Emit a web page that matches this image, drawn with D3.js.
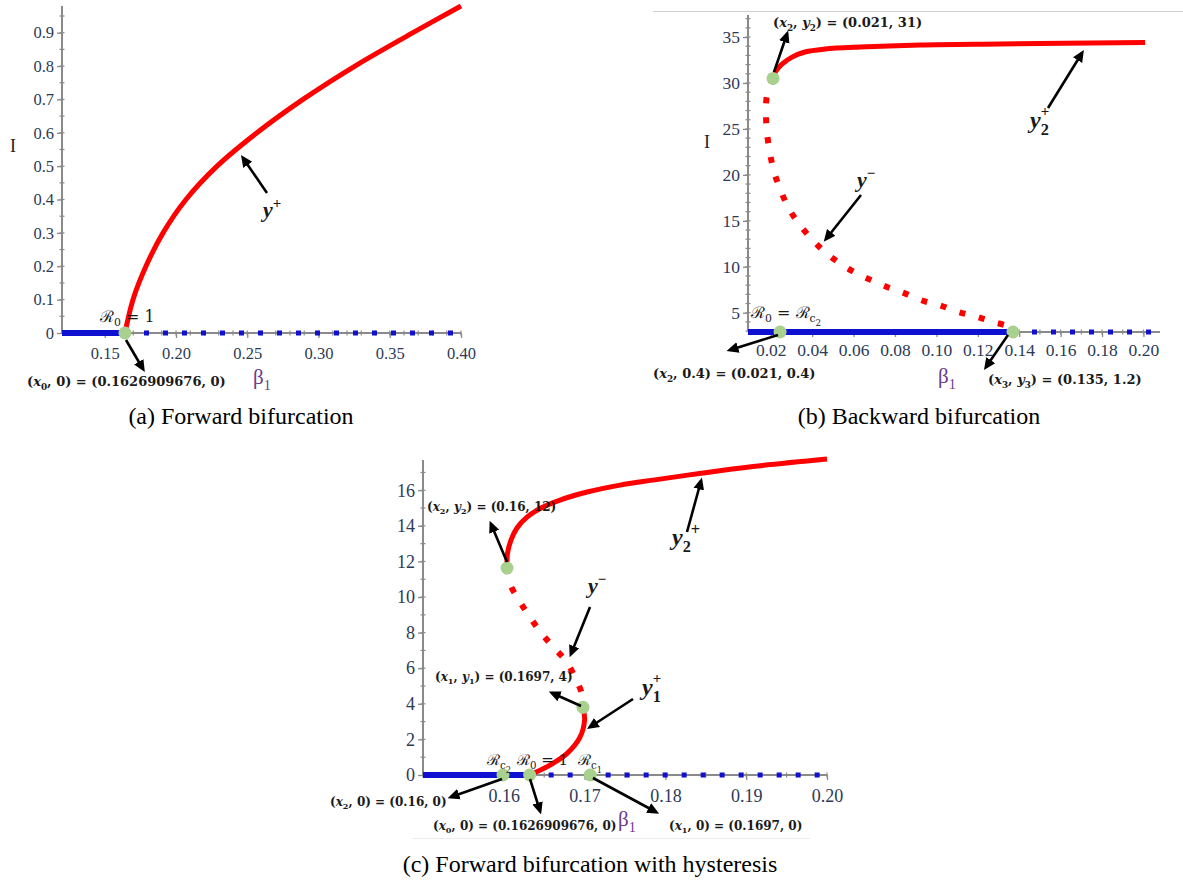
<!DOCTYPE html>
<html>
<head>
<meta charset="utf-8">
<script src="https://cdn.jsdelivr.net/npm/d3@7"></script>
<style>
  body { margin: 0; background: #fff; }
  svg { display: block; }
</style>
</head>
<body>
<svg id="chart" width="1183" height="884"></svg>
<script>
// ---------- panel (a) forward bifurcation ----------
const aXTicks = [0.15, 0.20, 0.25, 0.30, 0.35, 0.40];
const aYTicks = [0, 0.1, 0.2, 0.3, 0.4, 0.5, 0.6, 0.7, 0.8, 0.9];
const aBeta0 = 0.1642;                      // R0 = 1 (green dot)
const aYPlusBeta = [0.1642, 0.1698, 0.1789, 0.1909, 0.2070, 0.2288, 0.2568, 0.2891, 0.3256, 0.3663, 0.40];
const aYPlusI    = [0,      0.1,    0.2,    0.3,    0.4,    0.5,    0.6,    0.7,    0.8,    0.9,    0.98];

// ---------- panel (b) backward bifurcation ----------
const bXTicks = [0.02, 0.04, 0.06, 0.08, 0.10, 0.12, 0.14, 0.16, 0.18, 0.20];
const bYTicks = [5, 10, 15, 20, 25, 30, 35];
const bDotsBeta = [0.0211, 0.0245, 0.137];
const bDotsI    = [30.5,   0,      0];
const bY2PlusBeta = [0.0211, 0.0225, 0.0254, 0.0303, 0.0365, 0.0462, 0.0631, 0.0921, 0.1307, 0.2008];
const bY2PlusI    = [30.54,  31.3,   32.06,  32.82,  33.37,  33.69,  33.91,  34.13,  34.24,  34.4];
const bYMinusBeta = [0.0211, 0.0182, 0.0177, 0.0182, 0.0196, 0.0216, 0.0245, 0.0283, 0.0332, 0.039, 0.0452,
                     0.0525, 0.0597, 0.0679, 0.0761, 0.0848, 0.0935, 0.1018, 0.1104, 0.1187, 0.1274, 0.1356, 0.137];
const bYMinusI    = [30.5,   28.7,   26.7,   24.5,   22.4,   20.3,   18.5,   16.5,   14.8,   13.2,  11.8,
                     10.5,   9.5,    8.6,    7.8,    7.1,    6.3,    5.8,    5.1,    4.6,    4.0,    3.4,    2.9];

// ---------- panel (c) forward bifurcation with hysteresis ----------
const cXTicks = [0.16, 0.17, 0.18, 0.19, 0.20];
const cYTicks = [0, 2, 4, 6, 8, 10, 12, 14, 16];
const cDotsBeta = [0.1604, 0.1698, 0.1599, 0.1632, 0.1707];
const cDotsI    = [11.63,  3.8,    0,      0,      0];
const cY2PlusBeta = [0.1604, 0.16046, 0.16089, 0.16163, 0.16287, 0.1646, 0.16696, 0.1703, 0.17438, 0.17847, 0.18465, 0.19084, 0.200];
const cY2PlusI    = [11.63,  12.47,   13.2,    13.88,   14.49,   15.0,   15.45,   15.9,   16.29,   16.57,   16.97,   17.33,   17.75];
const cYMinusBeta = [0.1604, 0.1607, 0.1619, 0.1632, 0.1646, 0.1661, 0.1677, 0.1688, 0.1697, 0.1698];
const cYMinusI    = [11.63,  10.8,   9.8,    8.9,    8.0,    7.2,    6.4,    5.5,    4.5,    3.8];
const cY1PlusBeta = [0.1698, 0.1700, 0.1694, 0.1678, 0.1657, 0.1637, 0.1632];
const cY1PlusI    = [3.8,    3.1,    2.1,    1.2,    0.55,   0.1,    0];

const red = "#ff0000", blue = "#1010d0", green = "#a9d18e";
const tickColor = "#2c3a57", axisColor = "#8a8a8a", betaColor = "#6b3a8c";
const serif = "'Liberation Serif', 'Times New Roman', serif";
const mathSerif = "'DejaVu Serif', serif";

const svg = d3.select("#chart");
const defs = svg.append("defs");
defs.append("marker").attr("id", "head")
    .attr("viewBox", "0 0 10 10").attr("refX", 7).attr("refY", 5)
    .attr("markerWidth", 12).attr("markerHeight", 12)
    .attr("markerUnits", "userSpaceOnUse").attr("orient", "auto")
    .append("path").attr("d", "M0,0.5 L10,5 L0,9.5 z").attr("fill", "#000");

const zip = (xs, ys) => xs.map((v, i) => [v, ys[i]]);

function drawAxes(g, x, y, o) {
    const [x0, x1] = x.range(), [y0, y1] = y.range();
    // minor ticks, crossing the axis
    g.selectAll(".ymin").data(o.yMinor).join("line").attr("class", "ymin")
        .attr("x1", x0 - 2.5).attr("x2", x0 + 2.5)
        .attr("y1", d => y(d)).attr("y2", d => y(d))
        .attr("stroke", axisColor).attr("stroke-width", 1.2);
    g.selectAll(".xmin").data(o.xMinor).join("line").attr("class", "xmin")
        .attr("y1", y0 - 2.5).attr("y2", y0 + 2.5)
        .attr("x1", d => x(d)).attr("x2", d => x(d))
        .attr("stroke", axisColor).attr("stroke-width", 1.2);

    const ya = d3.axisLeft(y).tickValues(o.yTicks).tickSize(5).tickPadding(3).tickFormat(o.yFmt);
    const xa = d3.axisBottom(x).tickValues(o.xTicks).tickSize(5).tickPadding(o.xPad).tickFormat(o.xFmt);
    const gy = g.append("g").attr("transform", `translate(${x0},0)`).call(ya);
    const gx = g.append("g").attr("transform", `translate(0,${y0})`).call(xa);
    [gx, gy].forEach(a => {
        a.select(".domain").remove();
        a.selectAll(".tick line").attr("stroke", axisColor).attr("stroke-width", 1.3);
        a.selectAll(".tick text").attr("fill", tickColor)
            .attr("font-family", serif).attr("font-size", o.fontSize);
    });
    g.append("line").attr("x1", x0).attr("x2", x0).attr("y1", y0).attr("y2", y1)
        .attr("stroke", axisColor).attr("stroke-width", 2);
    g.append("line").attr("x1", x0).attr("x2", x1).attr("y1", y0).attr("y2", y0)
        .attr("stroke", axisColor).attr("stroke-width", 2);
}

function blueLine(g, x, y, solid, dotted) {
    const line = d3.line().x(d => x(d)).y(() => y(0));
    g.append("path").attr("d", line(solid)).attr("stroke", blue)
        .attr("stroke-width", 6).attr("fill", "none");
    g.append("path").attr("d", line(dotted)).attr("stroke", blue)
        .attr("stroke-width", 5).attr("stroke-dasharray", "5 14").attr("fill", "none");
}

function redCurve(g, x, y, pts, dotted) {
    const line = d3.line().x(d => x(d[0])).y(d => y(d[1])).curve(d3.curveCatmullRom.alpha(0.5));
    g.append("path").attr("d", line(pts)).attr("fill", "none")
        .attr("stroke", red).attr("stroke-width", dotted ? 6 : 5)
        .attr("stroke-dasharray", dotted ? "6 14" : null);
}

function dots(g, x, y, pts) {
    g.selectAll(".dot").data(pts).join("circle").attr("class", "dot")
        .attr("cx", d => x(d[0])).attr("cy", d => y(d[1])).attr("r", 6.5)
        .attr("fill", green);
}

function arrows(g, list) {
    g.selectAll(".arrow").data(list).join("line").attr("class", "arrow")
        .attr("x1", d => d[0]).attr("y1", d => d[1]).attr("x2", d => d[2]).attr("y2", d => d[3])
        .attr("stroke", "#000").attr("stroke-width", 2.6).attr("marker-end", "url(#head)");
}

// text with sub / superscripts: parts = [[str, kind]]
// kind: "" normal, "i" italic, "sub", "sup", "sub2" (subscript of a subscript), "stack" (sup placed over previous sub)
function mathText(g, x, y, parts, o) {
    const size = o.size;
    const t = g.append("text").attr("x", x).attr("y", y)
        .attr("font-family", o.family || serif).attr("font-size", size)
        .attr("font-weight", o.weight || "normal").attr("fill", o.fill || "#1a1a1a");
    const shifts = { sub: 0.28, sup: -0.42, sub2: 0.5, stack: -0.5 };
    const scales = { sub: 0.68, sup: 0.68, sub2: 0.55, stack: 0.62 };
    let shift = 0;
    parts.forEach(([s, k]) => {
        const want = (shifts[k] || 0) * size;
        const ts = t.append("tspan").text(s).attr("dy", want - shift);
        if (scales[k]) ts.attr("font-size", size * scales[k]);
        if (k === "stack") ts.attr("dx", -size * 0.68 * 0.5);
        if (o.italic || k === "i") ts.attr("font-style", "italic");
        shift = want;
    });
    return t;
}

const coord = (g, x, y, parts, size) =>
    mathText(g, x, y, parts, { size: size || 13, weight: "bold", family: mathSerif });
const yStyle = { size: 22, weight: "bold", family: serif };
const script = "'DejaVu Serif', serif";

function caption(txt, cx, cy) {
    svg.append("text").attr("x", cx).attr("y", cy).attr("text-anchor", "middle")
        .attr("font-family", serif).attr("font-size", 24).attr("fill", "#000").text(txt);
}

function betaLabel(g, x, y) {
    mathText(g, x, y, [["\u03b2", ""], ["1", "sub"]], { size: 21, family: serif, fill: betaColor });
}

function axisI(g, x, y) {
    g.append("text").attr("x", x).attr("y", y).attr("font-family", serif)
        .attr("font-size", 18).attr("fill", "#222").text("I");
}

// ================= panel (a) =================
{
    const g = svg.append("g");
    const x = d3.scaleLinear().domain([0.12, 0.40]).range([62, 461]);
    const y = d3.scaleLinear().domain([0, 0.98]).range([333, 6]);
    drawAxes(g, x, y, {
        xTicks: aXTicks, yTicks: aYTicks,
        xMinor: d3.range(13, 41).map(d => d / 100),
        yMinor: d3.range(1, 20).map(d => d * 0.05),
        xFmt: d3.format(".2f"), yFmt: d => d === 0 ? "0" : d3.format(".1f")(d), xPad: 9,
        fontSize: 16.5
    });
    blueLine(g, x, y, [0.12, aBeta0], [aBeta0, 0.40]);
    redCurve(g, x, y, zip(aYPlusBeta, aYPlusI), false);
    dots(g, x, y, [[aBeta0, 0]]);
    arrows(g, [[126, 340, 143, 369], [267, 193, 243, 158]]);

    axisI(g, 10, 152);
    betaLabel(g, 253, 384);
    mathText(g, 100, 322, [["\u211b", ""], ["0", "sub"], [" = 1", ""]], { size: 16, family: script });
    mathText(g, 263, 217, [["y", "i"], ["+", "sup"]], yStyle);
    coord(g, 27, 386, [["(", ""], ["x", "i"], ["0", "sub"], [", 0) = (0.1626909676, 0)", ""]]);
}

// ================= panel (b) =================
{
    const g = svg.append("g");
    const x = d3.scaleLinear().domain([0.009, 0.208]).range([748, 1160]);
    const y = d3.scaleLinear().domain([2.9, 37.4]).range([332, 15]).clamp(true);
    g.append("line").attr("x1", 653).attr("x2", 1183).attr("y1", 11.5).attr("y2", 11.5)
        .attr("stroke", "#cfcfcf").attr("stroke-width", 1);
    drawAxes(g, x, y, {
        xTicks: bXTicks, yTicks: bYTicks,
        xMinor: d3.range(1, 21).map(d => d / 100),
        yMinor: d3.range(3, 38),
        xFmt: d3.format(".2f"), yFmt: d3.format("d"), xPad: 7,
        fontSize: 17.5
    });
    blueLine(g, x, y, [0.009, bDotsBeta[2]], [bDotsBeta[2], 0.208]);
    redCurve(g, x, y, zip(bYMinusBeta, bYMinusI), true);
    redCurve(g, x, y, zip(bY2PlusBeta, bY2PlusI), false);
    dots(g, x, y, zip(bDotsBeta, bDotsI));
    arrows(g, [[774, 72, 787, 34], [1048, 108, 1082, 53], [861, 195, 826, 239],
               [778, 335, 730, 350], [1008, 335, 986, 367]]);

    axisI(g, 704, 148);
    betaLabel(g, 938, 383);
    coord(g, 773, 27, [["(", ""], ["x", "i"], ["2", "sub"], [", ", ""], ["y", "i"], ["2", "sub"], [") = (0.021, 31)", ""]]);
    mathText(g, 1030, 128, [["y", "i"], ["2", "sub"], ["+", "stack"]], { size: 24, weight: "bold", family: serif });
    mathText(g, 857, 187, [["y", "i"], ["\u2212", "sup"]], yStyle);
    mathText(g, 751, 318, [["\u211b", ""], ["0", "sub"], [" = \u211b", ""], ["c", "sub"], ["2", "sub2"]], { size: 16, family: script });
    coord(g, 653, 378, [["(", ""], ["x", "i"], ["2", "sub"], [", 0.4) = (0.021, 0.4)", ""]]);
    coord(g, 988, 384, [["(", ""], ["x", "i"], ["3", "sub"], [", ", ""], ["y", "i"], ["3", "sub"], [") = (0.135, 1.2)", ""]]);
}

// ================= panel (c) =================
{
    const g = svg.append("g");
    const x = d3.scaleLinear().domain([0.15, 0.20]).range([423, 827]);
    const y = d3.scaleLinear().domain([0, 17.7]).range([775, 460]);
    drawAxes(g, x, y, {
        xTicks: cXTicks, yTicks: cYTicks,
        xMinor: d3.range(30, 41).map(d => d / 200),
        yMinor: d3.range(1, 18),
        xFmt: d3.format(".2f"), yFmt: d3.format("d"), xPad: 9,
        fontSize: 18
    });
    g.append("line").attr("x1", 412).attr("x2", 810).attr("y1", 838.5).attr("y2", 838.5)
        .attr("stroke", "#ececec").attr("stroke-width", 1);
    blueLine(g, x, y, [0.15, cDotsBeta[3]], [cDotsBeta[3], 0.20]);
    redCurve(g, x, y, zip(cYMinusBeta, cYMinusI), true);
    redCurve(g, x, y, zip(cY2PlusBeta, cY2PlusI), false);
    redCurve(g, x, y, zip(cY1PlusBeta, cY1PlusI), false);
    dots(g, x, y, zip(cDotsBeta, cDotsI));
    arrows(g, [[507, 562, 491, 524], [687, 532, 701, 481], [590, 607, 571, 654],
               [581, 706, 552, 693], [633, 699, 590, 727],
               [502, 779, 451, 797], [530, 779, 540, 811], [593, 778, 656, 812]]);

    const cs = 12;
    betaLabel(g, 618, 826);
    coord(g, 427, 511, [["(", ""], ["x", "i"], ["2", "sub"], [", ", ""], ["y", "i"], ["2", "sub"], [") = (0.16, 12)", ""]], cs);
    mathText(g, 672, 545, [["y", "i"], ["2", "sub"], ["+", "sup"]], { size: 24, weight: "bold", family: serif });
    mathText(g, 588, 593, [["y", "i"], ["\u2212", "sup"]], yStyle);
    coord(g, 435, 681, [["(", ""], ["x", "i"], ["1", "sub"], [", ", ""], ["y", "i"], ["1", "sub"], [") = (0.1697, 4)", ""]], cs);
    mathText(g, 642, 695, [["y", "i"], ["1", "sub"], ["+", "stack"]], { size: 24, weight: "bold", family: serif });
    mathText(g, 487, 765, [["\u211b", ""], ["c", "sub"], ["2", "sub2"]], { size: 15, family: script });
    mathText(g, 517, 765, [["\u211b", ""], ["0", "sub"], [" = 1", ""]], { size: 15, family: script });
    mathText(g, 578, 765, [["\u211b", ""], ["c", "sub"], ["1", "sub2"]], { size: 15, family: script });
    coord(g, 330, 806, [["(", ""], ["x", "i"], ["2", "sub"], [", 0) = (0.16, 0)", ""]], cs);
    coord(g, 433, 830, [["(", ""], ["x", "i"], ["0", "sub"], [", 0) = (0.1626909676, 0)", ""]], cs);
    coord(g, 669, 830, [["(", ""], ["x", "i"], ["1", "sub"], [", 0) = (0.1697, 0)", ""]], cs);
}

caption("(a) Forward bifurcation", 241, 424);
caption("(b) Backward bifurcation", 919, 424);
caption("(c) Forward bifurcation with hysteresis", 590, 872);
</script>
</body>
</html>
